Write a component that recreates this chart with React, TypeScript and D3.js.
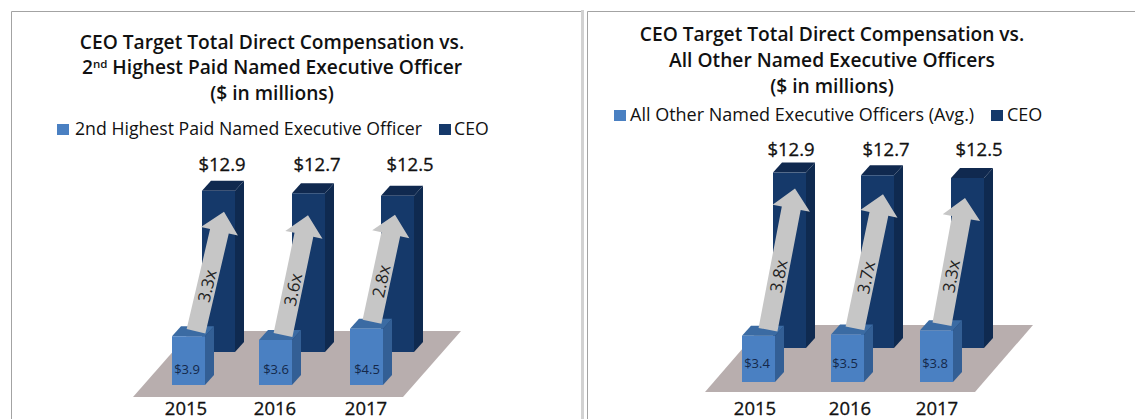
import React from "react";
import * as d3 from "d3";

const years = ["2015", "2016", "2017"];

// left panel values
const ceoLeft = [12.9, 12.7, 12.5];
const secondHighest = [3.9, 3.6, 4.5];
const multiplesLeft = ["3.3x", "3.6x", "2.8x"];

// right panel values
const ceoRight = [12.9, 12.7, 12.5];
const otherNeos = [3.4, 3.5, 3.8];
const multiplesRight = ["3.8x", "3.7x", "3.3x"];

const FONT = "'Open Sans', 'Noto Sans', sans-serif";
const DEPTH_X = 9;
const DEPTH_Y = 10;
const BAR_W = 33;

const colors = {
  ceoFront: "#15396a",
  ceoSide: "#0f2a50",
  ceoTop: "#10294f",
  smallFront: "#4a80c2",
  smallSide: "#335f95",
  smallTop: "#3b6ba3",
  arrow: "#c6c6c6",
  floor: "#b8aeae",
  border: "#a3a3a3",
};

const panels = [
  {
    title: [
      "CEO Target Total Direct Compensation vs.",
      "2nd Highest Paid Named Executive Officer",
      "($ in millions)",
    ],
    titleX: 272,
    titleY: [49, 74, 100],
    legendLabel: "2nd Highest Paid Named Executive Officer",
    legend: { y: 135, size: 17.7, swatch: 57, text: 75, ceoSwatch: 439, ceoText: 454 },
    ceo: ceoLeft,
    small: secondHighest,
    multiples: multiplesLeft,
    pxPerUnit: 12.5,
    ceoBase: 352,
    smallBase: 385,
    ceoX: [202, 292, 381],
    smallX: [172, 259, 350],
    ceoLabelX: [222, 317, 410],
    ceoLabelY: 171,
    smallLabelX: [187, 276, 367],
    smallLabelY: 374,
    yearX: [186, 275, 366],
    yearY: 415,
    floor: { left: 133, right: 403, top: 331, bottom: 397, skew: 58 },
    tailDx: [24, 24, 22],
    tailDy: [-5, -5, -7],
    tipDx: [22, 16, 14],
    tipDy: [21, 22, 19],
  },
  {
    title: [
      "CEO Target Total Direct Compensation vs.",
      "All Other Named Executive Officers",
      "($ in millions)",
    ],
    titleX: 832,
    titleY: [41, 67, 93],
    legendLabel: "All Other Named Executive Officers (Avg.)",
    legend: { y: 121, size: 18, swatch: 614, text: 630, ceoSwatch: 991, ceoText: 1007 },
    ceo: ceoRight,
    small: otherNeos,
    multiples: multiplesRight,
    pxPerUnit: 13.6,
    ceoBase: 348,
    smallBase: 382,
    ceoX: [773, 861, 951],
    smallX: [742, 831, 920],
    ceoLabelX: [791, 886, 979],
    ceoLabelY: 156,
    smallLabelX: [757, 845, 935],
    smallLabelY: 368,
    yearX: [755, 850, 937],
    yearY: 415,
    floor: { left: 705, right: 975, top: 325, bottom: 392, skew: 58 },
    tailDx: [26, 24, 22],
    tailDy: [-6, -6, -6],
    tipDx: [22, 22, 14],
    tipDy: [16, 19, 20],
  },
];

function Box({ x, top, base, front, side, topFill }) {
  const r = x + BAR_W;
  return (
    <g>
      <path
        d={`M${r},${top}L${r + DEPTH_X},${top - DEPTH_Y}L${r + DEPTH_X},${base - DEPTH_Y}L${r},${base}Z`}
        fill={side}
      />
      <path
        d={`M${x},${top}L${x + DEPTH_X},${top - DEPTH_Y}L${r + DEPTH_X},${top - DEPTH_Y}L${r},${top}Z`}
        fill={topFill}
      />
      <rect x={x} y={top} width={BAR_W} height={base - top} fill={front} />
    </g>
  );
}

// block arrow from the small bar up to the CEO bar, with the multiple written along it
function Arrow({ tail, tip, label }) {
  const dx = tip[0] - tail[0],
    dy = tip[1] - tail[1],
    len = Math.hypot(dx, dy),
    ux = dx / len,
    uy = dy / len,
    nx = -uy,
    ny = ux,
    shaft = 9.6,
    headW = 19,
    headL = 20;
  const at = (along, across) => [
    tail[0] + ux * along + nx * across,
    tail[1] + uy * along + ny * across,
  ];
  const points = [
    at(0, -shaft),
    at(len - headL, -shaft),
    at(len - headL, -headW),
    at(len, 0),
    at(len - headL, headW),
    at(len - headL, shaft),
    at(0, shaft),
  ];
  const c = at(len * 0.38, 0);
  const angle = (Math.atan2(dy, dx) * 180) / Math.PI;
  return (
    <g>
      <path d={d3.line()(points) + "Z"} fill={colors.arrow} />
      <text
        transform={`translate(${c[0]},${c[1]}) rotate(${angle})`}
        textAnchor="middle"
        dominantBaseline="central"
        fontSize={17}
        fill="#222"
      >
        {label}
      </text>
    </g>
  );
}

function Panel({ p }) {
  const ceoY = d3
    .scaleLinear()
    .domain([0, 13])
    .range([p.ceoBase, p.ceoBase - 13 * p.pxPerUnit]);
  const smallY = d3
    .scaleLinear()
    .domain([0, 13])
    .range([p.smallBase, p.smallBase - 13 * p.pxPerUnit]);
  const ceoX = d3.scaleOrdinal(years, p.ceoX);
  const smallX = d3.scaleOrdinal(years, p.smallX);
  const f = p.floor;

  return (
    <g fontFamily={FONT}>
      {p.title.map((line, i) => (
        <text
          key={i}
          x={p.titleX}
          y={p.titleY[i]}
          textAnchor="middle"
          fontSize={19.2}
          fontWeight="600"
          fill="#111"
        >
          {line.startsWith("2nd") ? (
            <>
              2<tspan fontSize={11.5} dy={-6}>nd</tspan>
              <tspan dy={6}>{line.slice(3)}</tspan>
            </>
          ) : (
            line
          )}
        </text>
      ))}

      <rect x={p.legend.swatch} y={p.legend.y - 11} width={12} height={11} fill={colors.smallFront} />
      <text x={p.legend.text} y={p.legend.y} fontSize={p.legend.size} fill="#111">
        {p.legendLabel}
      </text>
      <rect x={p.legend.ceoSwatch} y={p.legend.y - 11} width={12} height={11} fill={colors.ceoFront} />
      <text x={p.legend.ceoText} y={p.legend.y} fontSize={p.legend.size} fill="#111">
        CEO
      </text>

      <path
        d={`M${f.left},${f.bottom}L${f.right},${f.bottom}L${f.right + f.skew},${f.top}L${f.left + f.skew},${f.top}Z`}
        fill={colors.floor}
      />

      {years.map((y, i) => (
        <Box
          key={y}
          x={ceoX(y)}
          top={ceoY(p.ceo[i])}
          base={p.ceoBase}
          front={colors.ceoFront}
          side={colors.ceoSide}
          topFill={colors.ceoTop}
        />
      ))}
      {years.map((y, i) => (
        <Box
          key={y}
          x={smallX(y)}
          top={smallY(p.small[i])}
          base={p.smallBase}
          front={colors.smallFront}
          side={colors.smallSide}
          topFill={colors.smallTop}
        />
      ))}
      {years.map((y, i) => (
        <Arrow
          key={y}
          tail={[smallX(y) + p.tailDx[i], smallY(p.small[i]) + p.tailDy[i]]}
          tip={[ceoX(y) + p.tipDx[i], ceoY(p.ceo[i]) + p.tipDy[i]]}
          label={p.multiples[i]}
        />
      ))}

      {years.map((y, i) => (
        <g key={y}>
          <text x={p.ceoLabelX[i]} y={p.ceoLabelY} textAnchor="middle" fontSize={18.5} stroke="#111" strokeWidth={0.3} fill="#111">
            {"$" + p.ceo[i].toFixed(1)}
          </text>
          <text x={p.smallLabelX[i]} y={p.smallLabelY} textAnchor="middle" fontSize={13} fill="#14284a">
            {"$" + p.small[i].toFixed(1)}
          </text>
          <text x={p.yearX[i]} y={p.yearY} textAnchor="middle" fontSize={18.5} stroke="#111" strokeWidth={0.3} fill="#111">
            {y}
          </text>
        </g>
      ))}
    </g>
  );
}

export default function App() {
  return (
    <svg
      width={1135}
      height={419}
      style={{ position: "absolute", left: 0, top: 0, background: "#fff" }}
    >
      <path d="M11.5,419V11.5H581" fill="none" stroke={colors.border} strokeWidth={1} />
      <path d="M582.5,10V419" fill="none" stroke="#d2d2d2" strokeWidth={3} />
      <path d="M587.5,419V11.5H1135" fill="none" stroke={colors.border} strokeWidth={1} />
      {panels.map((p, i) => (
        <Panel key={i} p={p} />
      ))}
    </svg>
  );
}
